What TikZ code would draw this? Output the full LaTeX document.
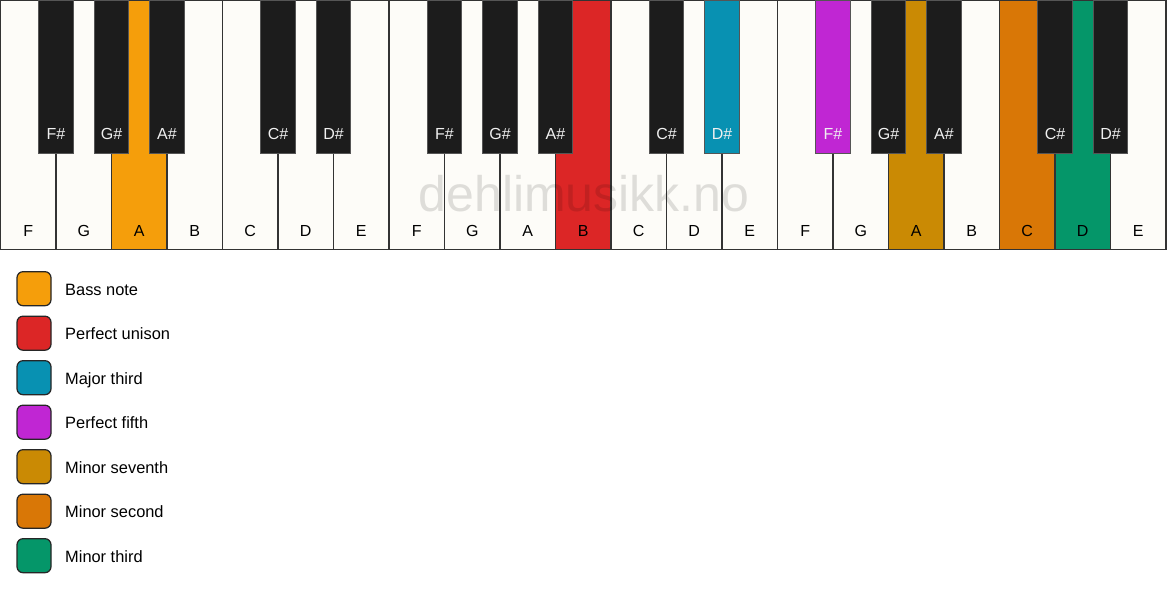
\documentclass[tikz,border=0pt]{standalone}
\usepackage{fontspec}
\setmainfont{Liberation Sans}
\definecolor{bass}{HTML}{F59E0B}
\definecolor{unison}{HTML}{DC2626}
\definecolor{majthird}{HTML}{0891B2}
\definecolor{fifth}{HTML}{C026D3}
\definecolor{minseventh}{HTML}{CA8A04}
\definecolor{minsecond}{HTML}{D97706}
\definecolor{minthird}{HTML}{059669}
\definecolor{ivory}{HTML}{FDFCF8}
\definecolor{ebony}{HTML}{1C1C1C}
\definecolor{keyline}{HTML}{333333}
\definecolor{blackline}{HTML}{555555}
\begin{document}
\begin{tikzpicture}[x=1pt,y=-1pt,font=\fontsize{16}{19}\selectfont,
  whitekey/.style={draw=keyline,line width=1.5pt},
  blackkey/.style={draw=blackline,line width=1pt},
  keylab/.style={anchor=base,inner sep=0pt},
  legbox/.style={draw=black!85,line width=1.2pt,rounded corners=6pt,minimum size=34pt,inner sep=0pt},
  legtext/.style={anchor=base west,inner sep=0pt,font=\fontsize{16.4}{19}\selectfont}]
\useasboundingbox (0,0) rectangle (1167,594);
\fill[white] (0,0) rectangle (1167,594);
% white keys
\foreach \n/\c [count=\i from 0] in {F/ivory,G/ivory,A/bass,B/ivory,C/ivory,D/ivory,E/ivory,
  F/ivory,G/ivory,A/ivory,B/unison,C/ivory,D/ivory,E/ivory,
  F/ivory,G/ivory,A/minseventh,B/ivory,C/minsecond,D/minthird,E/ivory}{
  \draw[whitekey,fill=\c] (0.5+55.5*\i,0.5) rectangle ++(55.5,249);
  \node[keylab] (w\i) at (28.25+55.5*\i,236) {\n};
}
% watermark
\node[anchor=base,inner sep=0pt,font=\fontsize{50}{60}\selectfont,text=black,text opacity=0.12] (wm) at (584,211) {dehlimusikk.no};
% black keys
\foreach \k/\n/\c [count=\j] in {1/F\#/ebony,2/G\#/ebony,3/A\#/ebony,5/C\#/ebony,6/D\#/ebony,
  8/F\#/ebony,9/G\#/ebony,10/A\#/ebony,12/C\#/ebony,13/D\#/majthird,
  15/F\#/fifth,16/G\#/ebony,17/A\#/ebony,19/C\#/ebony,20/D\#/ebony}{
  \draw[blackkey,fill=\c] (0.5+55.5*\k-17.25,0.5) rectangle ++(34.5,152.5);
  \node[keylab,text=white!94!black] (b\j) at (0.5+55.5*\k,139) {\n};
}
% legend
\foreach \c/\t [count=\i from 0] in {bass/Bass note,unison/Perfect unison,majthird/Major third,
  fifth/Perfect fifth,minseventh/Minor seventh,minsecond/Minor second,minthird/Minor third}{
  \node[legbox,fill=\c] (lb\i) at (34,288.7+44.5*\i) {};
  \node[legtext] (lt\i) at (65,295.3+44.5*\i) {\t};
}
\end{tikzpicture}
\end{document}
